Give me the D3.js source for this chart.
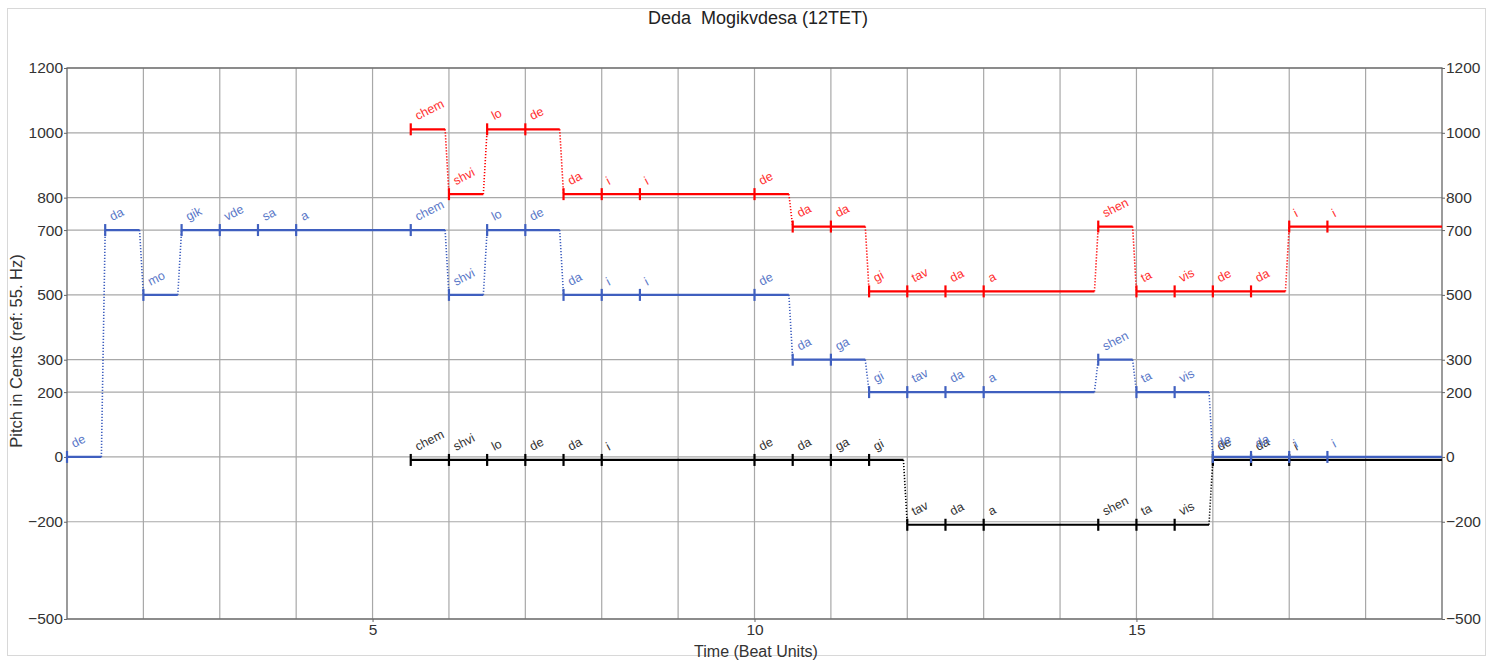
<!DOCTYPE html>
<html><head><meta charset="utf-8">
<script src="https://cdn.jsdelivr.net/npm/d3@7/dist/d3.min.js"></script>
<style>body{margin:0;background:#fff;} text{font-family:"Liberation Sans",Arial,sans-serif;}</style>
</head><body><svg id="c" width="1500" height="662"></svg>
<script>
// ---- data ----
const endTime = 19;
const yTicks = [1200, 1000, 800, 700, 500, 300, 200, 0, -200, -500];
const xTicks = [5, 10, 15];

const blueSyll  = ["de","da","mo","gik","vde","sa","a","chem","shvi","lo","de","da","i","i","de","da","ga","gi","tav","da","a","shen","ta","vis","de","da","i","i"];
const blueStart = [1,1.5,2,2.5,3,3.5,4,5.5,6,6.5,7,7.5,8,8.5,10,10.5,11,11.5,12,12.5,13,14.5,15,15.5,16,16.5,17,17.5];
const bluePitch = [0,700,500,700,700,700,700,700,500,700,700,500,500,500,500,300,300,200,200,200,200,300,200,200,0,0,0,0];

const redSyll  = ["chem","shvi","lo","de","da","i","i","de","da","da","gi","tav","da","a","shen","ta","vis","de","da","i","i"];
const redStart = [5.5,6,6.5,7,7.5,8,8.5,10,10.5,11,11.5,12,12.5,13,14.5,15,15.5,16,16.5,17,17.5];
const redPitch = [1000,800,1000,1000,800,800,800,800,700,700,500,500,500,500,700,500,500,500,500,700,700];

const blackSyll  = ["chem","shvi","lo","de","da","i","de","da","ga","gi","tav","da","a","shen","ta","vis","de","da","i"];
const blackStart = [5.5,6,6.5,7,7.5,8,10,10.5,11,11.5,12,12.5,13,14.5,15,15.5,16,16.5,17];
const blackPitch = [0,0,0,0,0,0,0,0,0,0,-200,-200,-200,-200,-200,-200,0,0,0];

// ---- layout ----
const svg = d3.select("#c");
const L = 67, R = 1442, T = 68, B = 619;
const x = d3.scaleLinear().domain([1, 19]).range([L, R]);
const y = d3.scaleLinear().domain([-500, 1200]).range([B, T]);

svg.append("rect").attr("x",7.5).attr("y",8.5).attr("width",1478).attr("height",647)
  .attr("fill","#fff").attr("stroke","#d8d8d8");

svg.append("text").attr("x",758).attr("y",24).attr("text-anchor","middle")
  .attr("font-size",18).attr("fill","#222").style("white-space","pre")
  .text("Deda  Mogikvdesa (12TET)");

// grid
const grid = svg.append("g");
grid.selectAll("line.v").data(d3.range(2, 19)).join("line")
  .attr("x1", d => x(d)).attr("x2", d => x(d)).attr("y1", T).attr("y2", B)
  .attr("stroke", "#a8a8a8").attr("stroke-width", 1.2);
grid.selectAll("line.h").data(yTicks).join("line")
  .attr("x1", L).attr("x2", R).attr("y1", d => y(d)).attr("y2", d => y(d))
  .attr("stroke", "#a8a8a8").attr("stroke-width", 1.2);

// frame
svg.append("rect").attr("x",L).attr("y",T).attr("width",R-L).attr("height",B-T)
  .attr("fill","none").attr("stroke","#666").attr("stroke-width",1.3);

const fmt = d => d < 0 ? "\u2212" + Math.abs(d) : String(d);
const styleAxis = g => {
  g.select(".domain").remove();
  g.selectAll(".tick line").attr("stroke","#666");
  g.selectAll(".tick text").attr("font-size",15.5).attr("fill","#333")
    .attr("font-family","\"Liberation Sans\",Arial,sans-serif");
};
svg.append("g").attr("transform",`translate(${L},0)`)
  .call(d3.axisLeft(y).tickValues(yTicks).tickFormat(fmt).tickSize(3).tickPadding(1)).call(styleAxis);
svg.append("g").attr("transform",`translate(${R},0)`)
  .call(d3.axisRight(y).tickValues(yTicks).tickFormat(fmt).tickSize(3).tickPadding(1)).call(styleAxis);
svg.append("g").attr("transform",`translate(0,${B})`)
  .call(d3.axisBottom(x).tickValues(xTicks).tickFormat(d3.format("d")).tickSize(3).tickPadding(2)).call(styleAxis);

svg.append("text").attr("x",756).attr("y",657).attr("text-anchor","middle")
  .attr("font-size",16).attr("fill","#333").text("Time (Beat Units)");
svg.append("text").attr("transform","translate(22,351) rotate(-90)").attr("text-anchor","middle")
  .attr("font-size",16.5).attr("fill","#333").text("Pitch in Cents (ref: 55. Hz)");

// voices
const gap = 0.05;
function voice(syll, start, pitch, color, labelColor, dy) {
  const g = svg.append("g");
  const notes = syll.map((s, i) => {
    const last = i === syll.length - 1;
    const next = last ? endTime : start[i + 1];
    const samePitchNext = !last && pitch[i + 1] === pitch[i];
    const end = (last || samePitchNext) ? next : next - gap;
    return {s, t0: start[i], t1: end, p: pitch[i], nextT: last ? null : start[i+1], nextP: last ? null : pitch[i+1]};
  });
  // dotted transitions
  g.selectAll("line.tr").data(notes.filter(n => n.nextT !== null && n.nextP !== n.p)).join("line")
    .attr("x1", n => x(n.t1)).attr("y1", n => y(n.p) + dy)
    .attr("x2", n => x(n.nextT)).attr("y2", n => y(n.nextP) + dy)
    .attr("stroke", color).attr("stroke-width", 1.6).attr("stroke-dasharray", "1.2,1.8");
  // note segments
  g.selectAll("line.n").data(notes).join("line")
    .attr("x1", n => x(n.t0)).attr("x2", n => x(n.t1))
    .attr("y1", n => y(n.p) + dy).attr("y2", n => y(n.p) + dy)
    .attr("stroke", color).attr("stroke-width", 2.2);
  // start ticks
  g.selectAll("line.k").data(notes).join("line")
    .attr("x1", n => x(n.t0)).attr("x2", n => x(n.t0))
    .attr("y1", n => y(n.p) + dy - 6).attr("y2", n => y(n.p) + dy + 6)
    .attr("stroke", color).attr("stroke-width", 2.2);
  // labels
  g.selectAll("text").data(notes).join("text")
    .attr("transform", n => `translate(${x(n.t0) + 7},${y(n.p) + dy - 9}) rotate(-27)`)
    .attr("font-size", 12.5).attr("fill", labelColor).text(n => n.s);
}
voice(blackSyll, blackStart, blackPitch, "#000", "#333", 3);
voice(blueSyll, blueStart, bluePitch, "#3f5fbf", "#5a78c8", 0);
voice(redSyll, redStart, redPitch, "#ff0000", "#ff3030", -3.5);
</script></body></html>
